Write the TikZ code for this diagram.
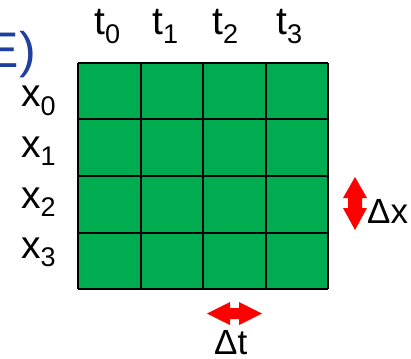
\documentclass[tikz,border=0pt]{standalone}
\usepackage{fontspec}
\setmainfont{Liberation Sans}
\definecolor{cellgreen}{RGB}{0,172,80}
\definecolor{titleblue}{RGB}{32,64,160}
\definecolor{arrowred}{RGB}{255,0,0}
\newcommand{\sublbl}[2]{#1\raisebox{-8.5pt}{\fontsize{27}{27}\selectfont #2}}
\begin{document}
\begin{tikzpicture}[x=1pt,y=-1pt,
  lbl/.style={inner sep=0pt, anchor=base west, font=\fontsize{39}{41}\selectfont},
  dlbl/.style={inner sep=0pt, anchor=base west, font=\fontsize{35}{37}\selectfont},
  gridline/.style={draw=black, line width=2pt},
  redarrow/.style={fill=arrowred}]
\useasboundingbox (0,0) rectangle (411,358);
% title fragment
\node[inner sep=0pt, anchor=base east, text=titleblue, font=\fontsize{50}{52}\selectfont] (title) at (36,68) {E)};
% grid
\fill[cellgreen] (78,63) rectangle (328,289);
\foreach \x in {78,140.5,203,265.5,328} \draw[gridline] (\x,63) -- (\x,289);
\foreach \y in {63,119.5,176,232.5,289} \draw[gridline] (78,\y) -- (328,\y);
% column labels
\node[lbl] (t0) at (94,35) {\sublbl{t}{0}};
\node[lbl] (t1) at (152,35) {\sublbl{t}{1}};
\node[lbl] (t2) at (212,35) {\sublbl{t}{2}};
\node[lbl] (t3) at (276,35) {\sublbl{t}{3}};
% row labels
\node[lbl] (x0) at (21,107) {\sublbl{x}{0}};
\node[lbl] (x1) at (21,157) {\sublbl{x}{1}};
\node[lbl] (x2) at (21,208) {\sublbl{x}{2}};
\node[lbl] (x3) at (21,258) {\sublbl{x}{3}};
% delta x
\fill[redarrow] (355,177) -- (367,198) -- (362,198) -- (362,208) -- (367,208) -- (355,230) -- (343,208) -- (348,208) -- (348,198) -- (343,198) -- cycle;
\node[dlbl] (dx) at (367,223) {Δx};
% delta t
\fill[redarrow] (207,313.5) -- (230,302) -- (230,308) -- (239,308) -- (239,302) -- (262,313.5) -- (239,325) -- (239,319) -- (230,319) -- (230,325) -- cycle;
\node[dlbl] (dt) at (214,354) {Δt};
\end{tikzpicture}
\end{document}
